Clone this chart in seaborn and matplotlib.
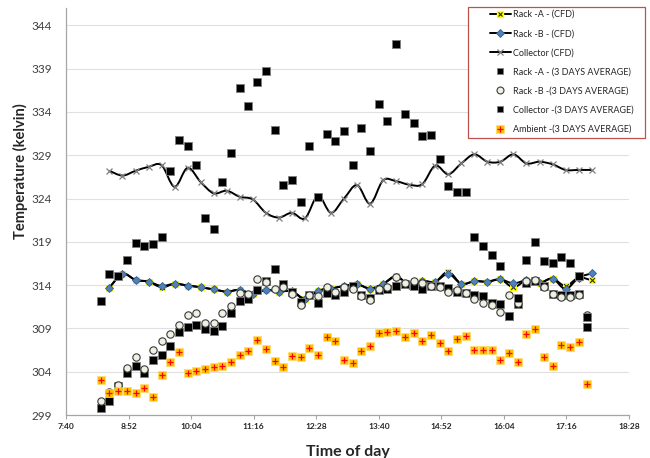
import matplotlib
matplotlib.use("Agg")
import matplotlib.pyplot as plt
import seaborn as sns
import numpy as np
import pandas as pd
from matplotlib.lines import Line2D
from matplotlib.patches import Rectangle, PathPatch
from matplotlib.path import Path
from matplotlib.legend_handler import HandlerTuple

# ---------------- data ----------------
avg_times = ["8:20","8:30","8:40","8:50","9:00","9:10","9:20","9:30","9:40","9:50",
             "10:00","10:10","10:20","10:30","10:40","10:50","11:00","11:10","11:20","11:30",
             "11:40","11:50","12:00","12:10","12:20","12:30","12:40","12:50","13:00","13:10",
             "13:20","13:30","13:40","13:50","14:00","14:10","14:20","14:30","14:40","14:50",
             "15:00","15:10","15:20","15:30","15:40","15:50","16:00","16:10","16:20","16:30",
             "16:40","16:50","17:00","17:10","17:20","17:30","17:40"]

cfd_times = ["8:30","8:45","9:00","9:15","9:30","9:45","10:00","10:15","10:30","10:45",
             "11:00","11:15","11:30","11:45","12:00","12:15","12:30","12:45","13:00","13:15",
             "13:30","13:45","14:00","14:15","14:30","14:45","15:00","15:15","15:30","15:45",
             "16:00","16:15","16:30","16:45","17:00","17:15","17:30","17:45"]

rack_a_cfd = [313.7, 315.3, 314.6, 314.4, 313.75, 314.15, 313.95, 313.75, 313.5, 313.25,
              313.45, 312.95, 313.45, 313.25, 313.3, 312.35, 313.35, 313.6, 313.9, 314.1,
              313.6, 314.15, 315.05, 314.0, 314.45, 314.4, 315.55, 314.15, 314.45, 314.4,
              314.65, 313.75, 314.55, 314.25, 314.75, 313.9, 314.85, 314.55]

rack_b_cfd = [313.7, 315.3, 314.6, 314.4, 313.9, 314.15, 313.95, 313.75, 313.5, 313.25,
              313.45, 313.0, 313.45, 313.25, 313.3, 312.45, 313.35, 313.6, 313.9, 314.1,
              313.6, 314.15, 314.95, 314.0, 314.45, 314.4, 315.3, 314.15, 314.45, 314.4,
              314.65, 314.2, 314.55, 314.25, 314.75, 313.55, 314.85, 315.35]

collector_cfd = [327.2, 326.65, 327.2, 327.65, 327.85, 325.35, 327.55, 325.9, 324.6, 324.9,
                 324.2, 323.9, 322.35, 321.8, 322.35, 321.7, 324.3, 322.35, 324.0, 325.55,
                 323.4, 326.1, 326.0, 325.6, 325.65, 327.8, 326.8, 328.05, 329.1, 328.25,
                 328.25, 329.1, 328.05, 328.25, 327.95, 327.3, 327.3, 327.3]

rack_a_avg = [299.85, 300.65, 302.3, 303.9, 304.7, 303.8, 305.35, 305.9, 306.95, 308.6,
              309.2, 309.45, 308.9, 308.75, 309.25, 310.75, 312.15, 312.4, 313.45, 314.45,
              315.9, 314.15, 313.25, 312.0, 312.8, 311.9, 313.1, 312.8, 313.15, 313.9,
              312.85, 312.5, 313.4, 313.6, 313.9, 314.1, 313.9, 313.6, 313.85, 313.9,
              313.65, 313.25, 313.05, 312.8, 312.7, 311.95, 311.85, 310.4, 311.8, 314.3,
              314.5, 313.9, 313.0, 312.8, 312.9, 313.0, 309.2]

rack_b_avg = [300.6, 301.7, 302.45, 304.45, 305.65, 304.3, 306.45, 307.55, 308.4, 309.4,
              310.55, 310.75, 309.6, 309.6, 310.8, 311.6, 313.05, 313.0, 314.65, 314.4,
              313.55, 313.8, 312.95, 311.75, 312.85, 312.75, 313.75, 313.15, 313.8, 313.6,
              312.75, 312.25, 313.5, 313.75, 314.9, 314.2, 314.5, 314.2, 313.9, 313.75,
              313.25, 313.4, 313.05, 312.45, 311.9, 311.7, 310.9, 312.9, 311.95, 314.45,
              314.55, 313.75, 312.95, 312.6, 312.6, 312.8, 310.55]

collector_avg = [312.2, 315.3, 315.05, 316.9, 318.9, 318.5, 318.7, 319.6, 327.2, 330.8,
                 330.05, 327.85, 321.8, 320.5, 325.85, 329.2, 336.8, 334.7, 337.45, 338.75,
                 331.95, 325.6, 326.1, 323.65, 330.1, 324.2, 331.4, 330.6, 331.8, 327.85,
                 332.2, 329.5, 334.9, 332.9, 341.8, 333.8, 332.7, 331.2, 331.35, 328.55,
                 325.4, 324.75, 324.7, 319.55, 318.55, 317.45, 316.25, 310.4, 312.55, 316.9,
                 319.0, 316.8, 316.6, 317.3, 316.6, 315.05, 310.3]

ambient_avg = [303.05, 301.5, 301.8, 301.8, 301.5, 302.1, 301.1, 303.6, 305.1, 306.3,
               303.85, 304.1, 304.35, 304.5, 304.65, 305.15, 305.9, 306.4, 307.7, 306.6,
               305.2, 304.5, 305.8, 305.65, 306.7, 305.95, 308.0, 307.6, 305.3, 305.0,
               306.35, 307.0, 308.45, 308.6, 308.65, 307.95, 308.5, 307.6, 308.2, 307.3,
               306.35, 307.8, 308.15, 306.45, 306.45, 306.45, 305.4, 306.15, 305.1, 308.4,
               308.95, 305.7, 304.7, 307.1, 306.8, 307.45, 302.6]

x_tick_labels = ["7:40","8:52","10:04","11:16","12:28","13:40","14:52","16:04","17:16","18:28"]
y_ticks = [299, 304, 309, 314, 319, 324, 329, 334, 339, 344]

labels = ["Rack -A - (CFD)", "Rack -B - (CFD)", "Collector (CFD)",
          "Rack -A - (3 DAYS AVERAGE)", "Rack -B -(3 DAYS AVERAGE)",
          "Collector -(3 DAYS AVERAGE)", "Ambient -(3 DAYS AVERAGE)"]


def to_min(s):
    h, m = s.split(":")
    return int(h) * 60 + int(m)


cfd = pd.DataFrame({"t": [to_min(s) for s in cfd_times],
                    "rack_a": rack_a_cfd, "rack_b": rack_b_cfd, "coll": collector_cfd})
avg = pd.DataFrame({"t": [to_min(s) for s in avg_times],
                    "rack_a": rack_a_avg, "rack_b": rack_b_avg,
                    "coll": collector_avg, "amb": ambient_avg})

# ---------------- style ----------------
sns.set_theme(style="white")
plt.rcParams["font.family"] = ["Lato", "DejaVu Sans"]

W, H = 650, 458
fig = plt.figure(figsize=(W / 100, H / 100), dpi=100)
ax = fig.add_axes([66 / W, 1 - 415 / H, (629 - 66) / W, (415 - 8) / H])

YEL = "#FFFF00"
BLUE = "#4F81BD"
ORANGE = "#FFC000"


def smooth_line(ax, xs, ys, **kw):
    """Excel-style smoothed line: cubic Bezier segments through the data points."""
    xs = np.asarray(xs, float)
    ys = np.asarray(ys, float)
    pts = np.column_stack([xs, ys])
    n = len(pts)
    verts = [pts[0]]
    codes = [Path.MOVETO]
    for i in range(n - 1):
        p0 = pts[max(i - 1, 0)]
        p1 = pts[i]
        p2 = pts[i + 1]
        p3 = pts[min(i + 2, n - 1)]
        c1 = p1 + (p2 - p0) / 6.0
        c2 = p2 - (p3 - p1) / 6.0
        verts += [c1, c2, p2]
        codes += [Path.CURVE4] * 3
    ax.add_patch(PathPatch(Path(verts, codes), facecolor="none", transform=ax.transData,
                           **kw))


# CFD lines (smoothed curves + markers)
smooth_line(ax, cfd["t"], cfd["rack_a"], edgecolor="black", lw=1.4, zorder=3)
smooth_line(ax, cfd["t"], cfd["rack_b"], edgecolor="black", lw=1.4, zorder=3.15)
smooth_line(ax, cfd["t"], cfd["coll"], edgecolor="black", lw=1.4, zorder=3.3)

sns.lineplot(data=cfd, x="t", y="rack_a", ax=ax, color="black", lw=0, sort=False,
             marker="s", markersize=5, markerfacecolor=YEL, markeredgecolor=YEL, zorder=3.05)
sns.scatterplot(data=cfd, x="t", y="rack_a", ax=ax, marker="x", s=12, color="#333300",
                linewidth=0.8, zorder=3.1, legend=False)
sns.lineplot(data=cfd, x="t", y="rack_b", ax=ax, color="black", lw=0, sort=False,
             marker="D", markersize=3.6, markerfacecolor=BLUE, markeredgecolor="#385D8A",
             markeredgewidth=0.6, zorder=3.2)
sns.lineplot(data=cfd, x="t", y="coll", ax=ax, color="black", lw=0, sort=False,
             marker="x", markersize=4.5, markeredgecolor="#7F7F7F", markeredgewidth=0.9,
             zorder=3.35)

# 3 day averages
sns.scatterplot(data=avg, x="t", y="rack_a", ax=ax, marker="s", s=26, color="black",
                edgecolor="#808080", linewidth=0.6, zorder=4, legend=False)
sns.scatterplot(data=avg, x="t", y="rack_b", ax=ax, marker="o", s=28, color="#EEF0E2",
                edgecolor="#3A3A3A", linewidth=0.8, zorder=4.1, legend=False)
sns.scatterplot(data=avg, x="t", y="coll", ax=ax, marker="s", s=26, color="black",
                edgecolor="#808080", linewidth=0.6, zorder=4.2, legend=False)
sns.scatterplot(data=avg, x="t", y="amb", ax=ax, marker="s", s=30, color=ORANGE,
                edgecolor="#FFD966", linewidth=0.4, zorder=4.3, legend=False)
sns.scatterplot(data=avg, x="t", y="amb", ax=ax, marker="+", s=22, color="#FF0000",
                linewidth=0.9, zorder=4.4, legend=False)

# axes
ax.set_xlim(to_min("7:40"), to_min("18:28"))
ax.set_ylim(299, 346)
ax.set_xticks([to_min(s) for s in x_tick_labels])
ax.set_xticklabels(x_tick_labels, fontsize=6, fontweight="bold", color="#262626")
ax.set_yticks(y_ticks)
ax.set_yticklabels([str(v) for v in y_ticks], fontsize=8.5, color="#404040")
ax.grid(axis="y", color="#E0E0E0", lw=0.8)
ax.grid(axis="x", visible=False)
for s in ["top", "right"]:
    ax.spines[s].set_visible(False)
for s in ["left", "bottom"]:
    ax.spines[s].set_color("#A6A6A6")
    ax.spines[s].set_linewidth(0.9)
ax.tick_params(axis="x", direction="out", length=3, width=0.8, color="#A6A6A6", pad=3,
               bottom=True)
ax.tick_params(axis="y", direction="out", length=0, pad=10, left=False)

ax.set_xlabel("Time of day", fontsize=11.5, fontweight="bold", color="#262626")
ax.xaxis.set_label_coords(0.5, -0.074)
ax.set_ylabel("Temperature (kelvin)", fontsize=10.5, fontweight="bold", color="#262626")
ax.yaxis.set_label_coords(-0.068, 0.6)

# legend
h_a = (Line2D([], [], color="black", lw=1.4, marker="s", markersize=5,
              markerfacecolor=YEL, markeredgecolor=YEL),
       Line2D([], [], ls="none", marker="x", markersize=3.5, markeredgecolor="#333300",
              markeredgewidth=0.8))
h_b = Line2D([], [], color="black", lw=1.4, marker="D", markersize=3.6,
             markerfacecolor=BLUE, markeredgecolor="#385D8A", markeredgewidth=0.6)
h_c = Line2D([], [], color="black", lw=1.4, marker="x", markersize=4.5,
             markeredgecolor="#7F7F7F", markeredgewidth=0.9)
h_ra = Line2D([], [], ls="none", marker="s", markersize=5, markerfacecolor="black",
              markeredgecolor="#808080", markeredgewidth=0.6)
h_rb = Line2D([], [], ls="none", marker="o", markersize=5, markerfacecolor="#EEF0E2",
              markeredgecolor="#3A3A3A", markeredgewidth=0.8)
h_ca = Line2D([], [], ls="none", marker="s", markersize=5, markerfacecolor="black",
              markeredgecolor="#808080", markeredgewidth=0.6)
h_am = (Line2D([], [], ls="none", marker="s", markersize=5.4, markerfacecolor=ORANGE,
               markeredgecolor="#FFD966", markeredgewidth=0.4),
        Line2D([], [], ls="none", marker="+", markersize=4.5, markeredgecolor="#FF0000",
               markeredgewidth=0.9))

fig.patches.append(Rectangle((468 / W, 1 - 138 / H), (645 - 468) / W, (138 - 7) / H,
                             transform=fig.transFigure, facecolor="white",
                             edgecolor="#C0504D", lw=0.9, zorder=5))
leg = fig.legend([h_a, h_b, h_c, h_ra, h_rb, h_ca, h_am], labels,
                 handler_map={tuple: HandlerTuple(ndivide=1)},
                 loc="upper left", bbox_to_anchor=(490 / W, 1 - 10 / H),
                 frameon=False, fontsize=6.5, numpoints=1, handlelength=2.3,
                 handletextpad=0.3, labelspacing=1.12, borderpad=0, borderaxespad=0)
leg.set_zorder(6)
for t in leg.get_texts():
    t.set_color("#262626")

fig.savefig("out.png", dpi=100)
